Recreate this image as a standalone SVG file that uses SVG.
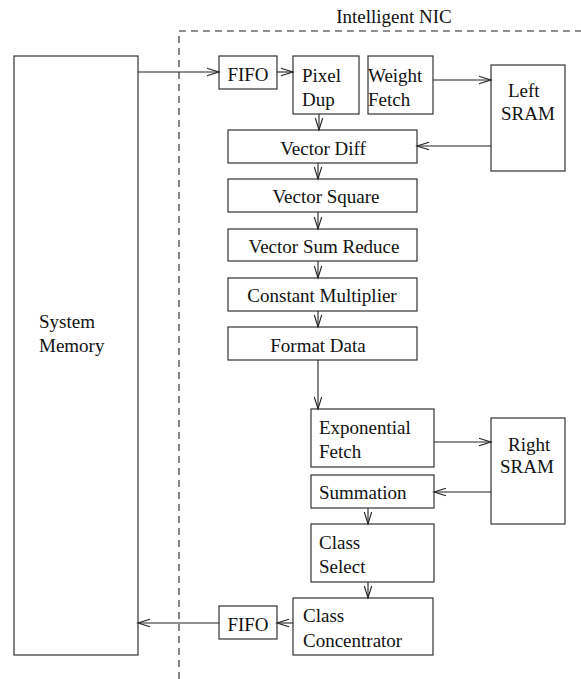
<svg xmlns="http://www.w3.org/2000/svg" width="581" height="679" viewBox="0 0 581 679">
<style>
.box{fill:#fff;stroke:#333;stroke-width:1.2}
.t{font-family:"Liberation Serif","Times New Roman",serif;font-size:19px;fill:#111}
.c{text-anchor:middle}
.ln{fill:none;stroke:#222;stroke-width:1.1}
.dash{fill:none;stroke:#222;stroke-width:1.1;stroke-dasharray:7,5}
</style>
<defs>
<marker id="ah" markerUnits="userSpaceOnUse" markerWidth="16" markerHeight="10" refX="13" refY="5" orient="auto">
<path d="M1,1.3 L13,5 L1,8.7" fill="none" stroke="#222" stroke-width="1.1"/>
</marker>
</defs>
<rect width="581" height="679" fill="#fff"/>
<g id="nic-boundary">
<path class="dash" d="M179,679 V31 H581"/>
<text class="t c" x="394" y="23">Intelligent NIC</text>
</g>
<g id="system-memory"><rect class="box" x="14" y="56" width="124" height="599"/><text class="t" x="39" y="328">System</text><text class="t" x="39" y="352">Memory</text></g>
<g id="fifo-in"><rect class="box" x="219" y="56" width="58" height="33"/><text class="t c" x="248" y="81">FIFO</text></g>
<g id="pixel-dup"><rect class="box" x="293" y="56" width="66" height="58"/><text class="t" x="302" y="82">Pixel</text><text class="t" x="302" y="106">Dup</text></g>
<g id="weight-fetch"><rect class="box" x="368" y="56" width="65" height="58"/><text class="t" x="368" y="82">Weight</text><text class="t" x="368" y="106">Fetch</text></g>
<g id="left-sram"><rect class="box" x="491" y="65" width="74" height="106"/><text class="t" x="508" y="97">Left</text><text class="t" x="501" y="120">SRAM</text></g>
<g id="vector-diff"><rect class="box" x="228" y="130" width="189" height="33"/><text class="t c" x="323" y="155">Vector Diff</text></g>
<g id="vector-square"><rect class="box" x="228" y="179" width="189" height="33"/><text class="t c" x="326" y="203">Vector Square</text></g>
<g id="vector-sum-reduce"><rect class="box" x="228" y="229" width="189" height="32"/><text class="t c" x="324" y="253">Vector Sum Reduce</text></g>
<g id="constant-multiplier"><rect class="box" x="228" y="278" width="189" height="33"/><text class="t c" x="322" y="302">Constant Multiplier</text></g>
<g id="format-data"><rect class="box" x="228" y="327" width="189" height="33"/><text class="t c" x="318" y="352">Format Data</text></g>
<g id="exponential-fetch"><rect class="box" x="311" y="409" width="123" height="58"/><text class="t" x="319" y="434">Exponential</text><text class="t" x="319" y="458">Fetch</text></g>
<g id="right-sram"><rect class="box" x="491" y="418" width="74" height="106"/><text class="t" x="508" y="451">Right</text><text class="t" x="500" y="473">SRAM</text></g>
<g id="summation"><rect class="box" x="311" y="475" width="123" height="33"/><text class="t" x="319" y="499">Summation</text></g>
<g id="class-select"><rect class="box" x="311" y="524" width="123" height="58"/><text class="t" x="319" y="549">Class</text><text class="t" x="319" y="573">Select</text></g>
<g id="class-concentrator"><rect class="box" x="293" y="598" width="140" height="57"/><text class="t" x="303" y="622">Class</text><text class="t" x="303" y="647">Concentrator</text></g>
<g id="fifo-out"><rect class="box" x="219" y="606" width="58" height="33"/><text class="t c" x="248" y="631">FIFO</text></g>
<g id="connectors">
<path class="ln" d="M138,72 H219" marker-end="url(#ah)"/>
<path class="ln" d="M277,72 H293" marker-end="url(#ah)"/>
<path class="ln" d="M433,80 H491" marker-end="url(#ah)"/>
<path class="ln" d="M491,146 H417" marker-end="url(#ah)"/>
<path class="ln" d="M319,114 V130" marker-end="url(#ah)"/>
<path class="ln" d="M318,163 V179" marker-end="url(#ah)"/>
<path class="ln" d="M318,212 V229" marker-end="url(#ah)"/>
<path class="ln" d="M318,261 V278" marker-end="url(#ah)"/>
<path class="ln" d="M318,311 V327" marker-end="url(#ah)"/>
<path class="ln" d="M318,360 V409" marker-end="url(#ah)"/>
<path class="ln" d="M434,442 H491" marker-end="url(#ah)"/>
<path class="ln" d="M491,492 H434" marker-end="url(#ah)"/>
<path class="ln" d="M368,508 V524" marker-end="url(#ah)"/>
<path class="ln" d="M368,582 V598" marker-end="url(#ah)"/>
<path class="ln" d="M293,623 H277" marker-end="url(#ah)"/>
<path class="ln" d="M219,623 H138" marker-end="url(#ah)"/>
</g>
</svg>
